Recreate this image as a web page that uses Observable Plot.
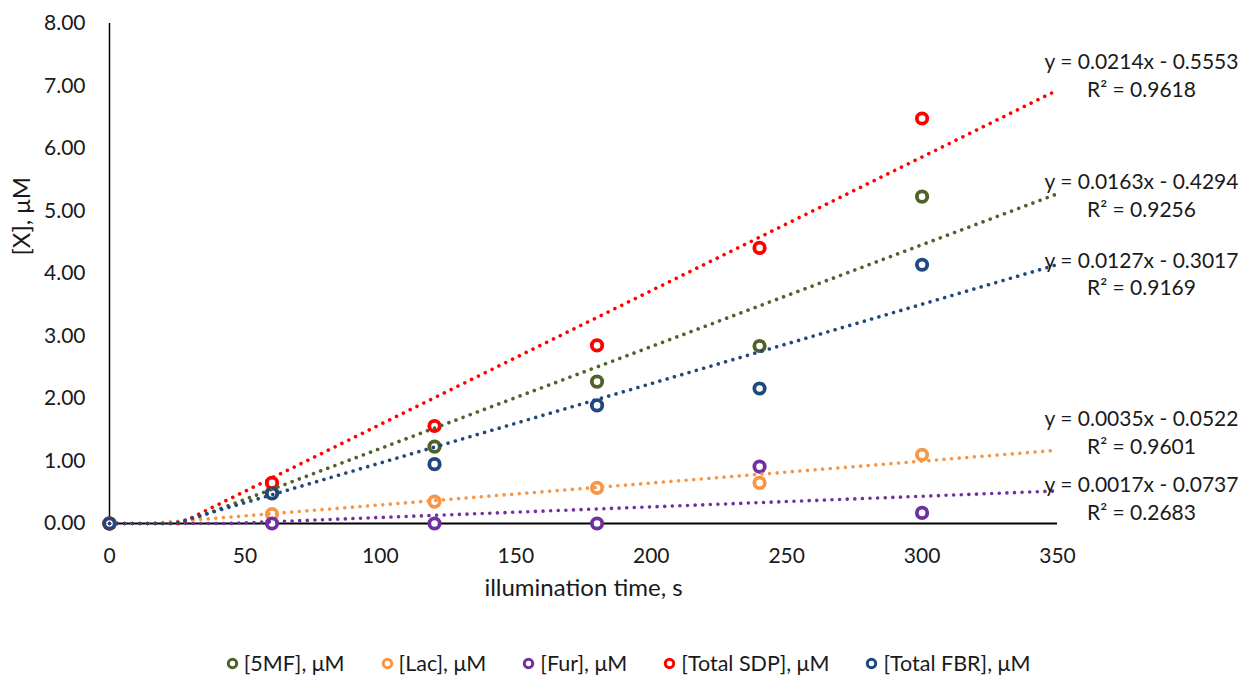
<!DOCTYPE html>
<html>
<head>
<meta charset="utf-8">
<script src="https://cdn.jsdelivr.net/npm/d3@7"></script>
<script src="https://cdn.jsdelivr.net/npm/@observablehq/plot@0.6"></script>
<style>
  body { margin: 0; background: #fff; font-family: Lato, "Open Sans", sans-serif; }
  #legend { display: flex; justify-content: center; align-items: center; gap: 36px; font-size: 21.5px; color: #1a1a1a; height: 36px; padding-left: 14px; }
  #legend span { display: inline-flex; align-items: center; gap: 5px; }
</style>
</head>
<body>
<div id="chart"></div>
<div id="legend"></div>
<script>
const times = [0, 60, 120, 180, 240, 300];
const seriesNames = ["[5MF], μM", "[Lac], μM", "[Fur], μM", "[Total SDP], μM", "[Total FBR], μM"];
const mf5 = [0, 0.49, 1.23, 2.27, 2.84, 5.23];
const lac = [0, 0.15, 0.35, 0.57, 0.65, 1.10];
const fur = [0, 0, 0, 0, 0.91, 0.17];
const sdp = [0, 0.65, 1.56, 2.85, 4.41, 6.48];
const fbr = [0, 0.48, 0.95, 1.89, 2.16, 4.14];
const slopes = [0.0163, 0.0035, 0.0017, 0.0214, 0.0127];
const intercepts = [-0.4294, -0.0522, -0.0737, -0.5553, -0.3017];
const r2 = [0.9256, 0.9601, 0.2683, 0.9618, 0.9169];
const xTicks = [0, 50, 100, 150, 200, 250, 300, 350];
const yTicks = [0, 1, 2, 3, 4, 5, 6, 7, 8];
const colors = ["#4f6228", "#f79646", "#7030a0", "#ff0000", "#1f497d"];
const labelDy = [0, -19, 6, -16, 8];

const valuesList = [mf5, lac, fur, sdp, fbr];
const points = [];
valuesList.forEach((vals, i) => vals.forEach((v, j) => points.push({series: seriesNames[i], t: times[j], v})));

const trend = [];
seriesNames.forEach((s, i) => {
  const m = slopes[i], b = intercepts[i];
  const x0 = b < 0 ? -b / m : 0;
  [0, x0, 350].forEach(x => trend.push({series: s, t: x, v: Math.max(0, m * x + b)}));
});

const labels = seriesNames.map((s, i) => {
  const b = intercepts[i];
  const sign = b < 0 ? "-" : "+";
  return {
    series: s, i,
    t: 350,
    v: slopes[i] * 350 + b,
    text: `y = ${slopes[i].toFixed(4)}x ${sign} ${Math.abs(b).toFixed(4)}\nR² = ${r2[i].toFixed(4)}`
  };
});

const ink = "#1a1a1a";
const chart = Plot.plot({
  width: 1242,
  height: 645,
  marginLeft: 109,
  marginRight: 185,
  marginTop: 23,
  marginBottom: 122,
  style: {fontFamily: "Lato, 'Open Sans', sans-serif", fontSize: "21px", color: ink, background: "#fff"},
  x: {domain: [0, 350], ticks: xTicks, tickSize: 0, tickPadding: 25, label: null},
  y: {domain: [0, 8], ticks: yTicks, tickSize: 0, tickPadding: 24, tickFormat: d3.format(".2f"), label: null},
  color: {domain: seriesNames, range: colors},
  marks: [
    Plot.ruleX([0], {stroke: "#000", strokeWidth: 1.5}),
    Plot.ruleY([0], {stroke: "#000", strokeWidth: 2}),
    Plot.dot(points, {x: "t", y: "v", stroke: "series", fill: "white", r: 5.2, strokeWidth: 3.8}),
    Plot.line(trend, {x: "t", y: "v", z: "series", stroke: "series", strokeWidth: 3.6, strokeDasharray: "0.01 7.6", strokeLinecap: "round"}),
    ...labels.map(l => Plot.text([l], {x: "t", y: "v", text: "text", dx: 84, dy: labelDy[l.i], textAnchor: "middle", lineAnchor: "middle", lineHeight: 1.33, fill: ink, fontSize: 21, clip: false})),
    Plot.text(["[X], μM"], {frameAnchor: "left", dx: -87, dy: -18, rotate: -90, fontSize: 24, fill: ink}),
    Plot.text(["illumination time, s"], {frameAnchor: "bottom", dy: 72, fontSize: 24, fill: ink})
  ]
});
document.getElementById("chart").appendChild(chart);

const legend = document.getElementById("legend");
seriesNames.forEach((s, i) => {
  const span = document.createElement("span");
  span.innerHTML = `<svg width="13" height="13"><circle cx="6.5" cy="6.5" r="4.2" fill="white" stroke="${colors[i]}" stroke-width="3"/></svg>${s}`;
  legend.appendChild(span);
});
</script>
</body>
</html>
